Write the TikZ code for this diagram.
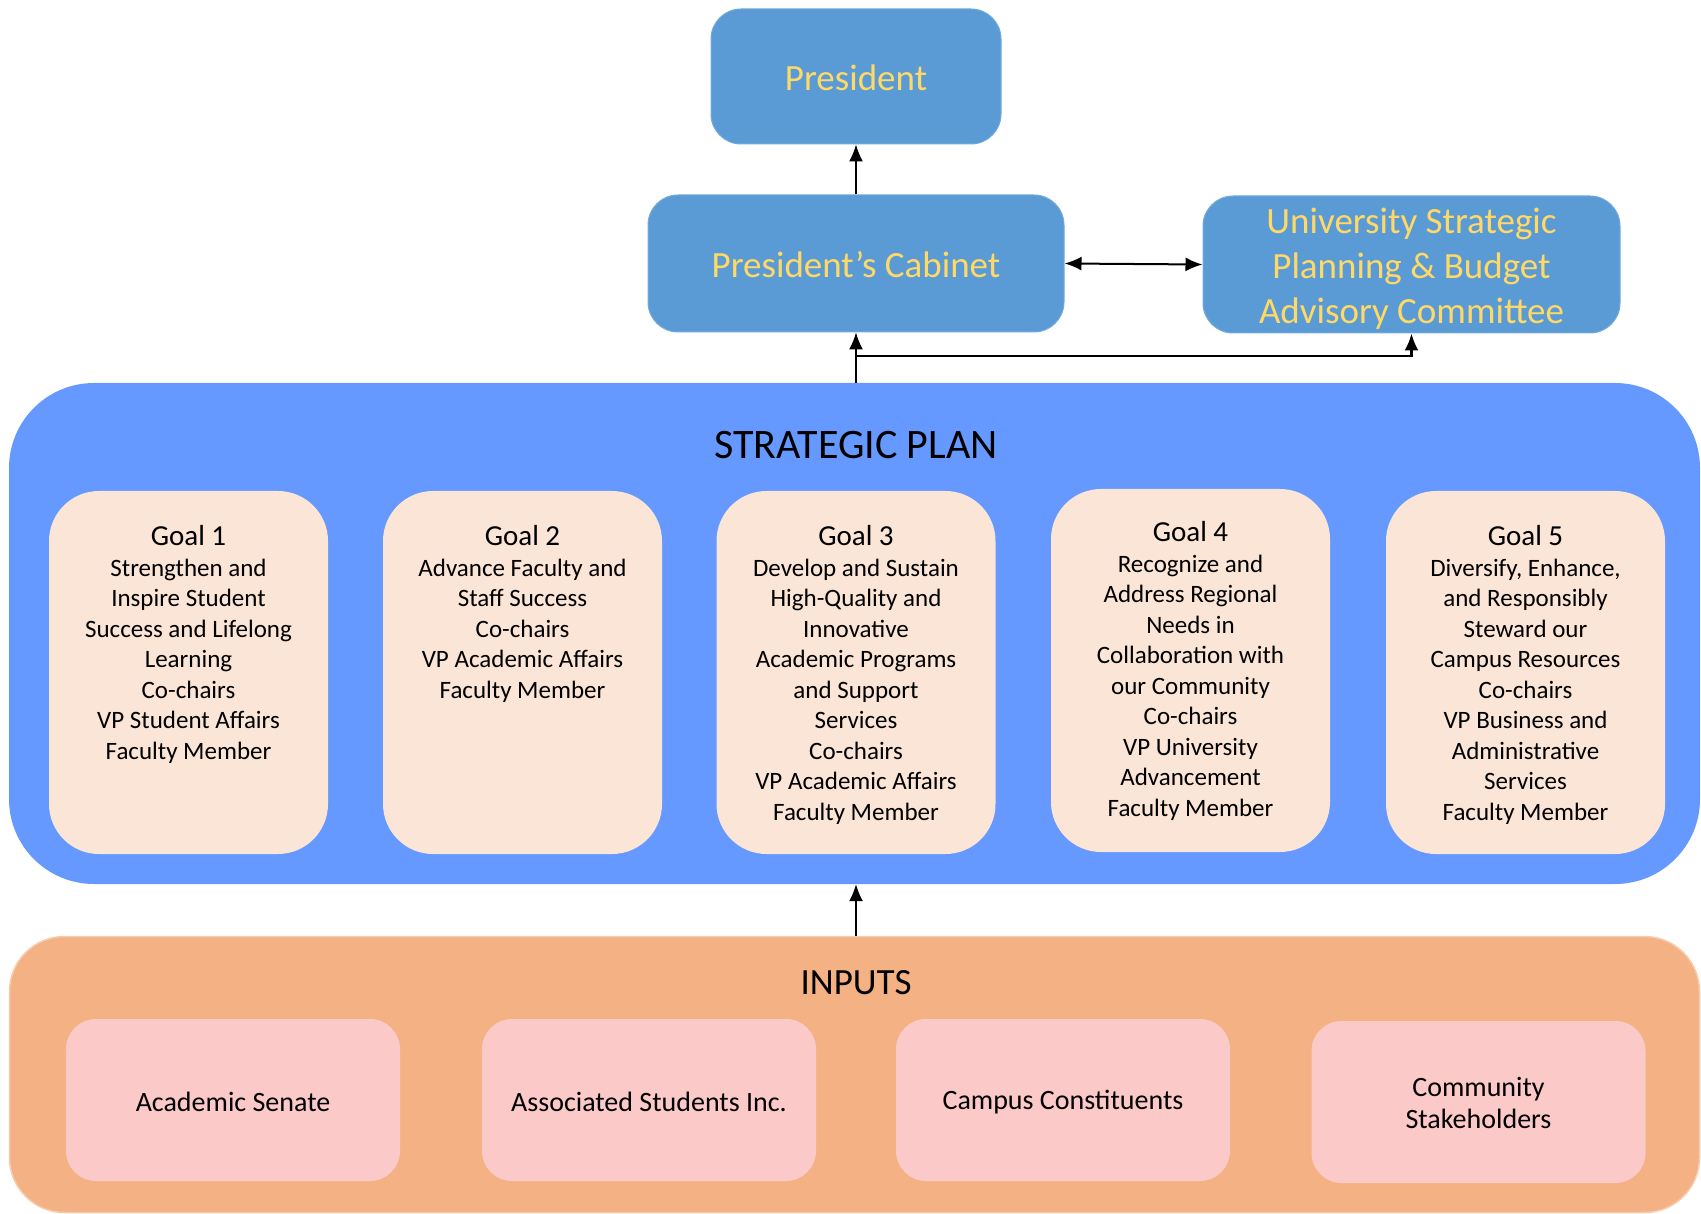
\documentclass[tikz,border=0pt]{standalone}
\usepackage{fontspec}
\setmainfont{Carlito}
\usetikzlibrary{arrows.meta}
\definecolor{boxblue}{HTML}{5B9BD5}
\definecolor{txtyellow}{HTML}{FFD966}
\definecolor{planblue}{HTML}{6699FF}
\definecolor{goalfill}{HTML}{FBE5D6}
\definecolor{inputfill}{HTML}{F4B183}
\definecolor{inputedge}{HTML}{F8CBAD}
\definecolor{srcfill}{HTML}{FCC9C9}
\tikzset{
  topbox/.style={rounded corners=30pt, fill=boxblue, draw=boxblue!85!white, line width=1pt,
    text=txtyellow, font=\fontsize{37}{44.5}\selectfont, align=center, inner sep=0pt},
  toptext/.style={text=txtyellow, font=\fontsize{37}{45}\selectfont, align=center, inner sep=0pt},
  planbox/.style={rounded corners=85pt, fill=planblue, draw=none, inner sep=0pt},
  goalbox/.style={rounded corners=50pt, fill=goalfill, draw=none, inner sep=0pt,
    minimum width=279pt, minimum height=363pt},
  goaltext/.style={anchor=north, align=center, inner sep=0pt, text=black,
    font=\fontsize{25}{30.5}\selectfont},
  inbox/.style={rounded corners=55pt, fill=inputfill, draw=inputedge, line width=1.5pt, inner sep=0pt},
  srcbox/.style={rounded corners=30pt, fill=srcfill, draw=none, inner sep=0pt,
    minimum width=334pt, minimum height=162pt},
  srctext/.style={align=center, inner sep=0pt, font=\fontsize{28}{32.5}\selectfont},
  titletext/.style={inner sep=0pt, text=black},
  arr/.style={-{Latex[length=17pt,width=14pt]}, line width=1.5pt, black},
  darr/.style={{Latex[length=17pt,width=14pt]}-{Latex[length=17pt,width=14pt]}, line width=2pt, black},
}
\begin{document}
\begin{tikzpicture}[x=1pt,y=-1pt]
\useasboundingbox (0,0) rectangle (1701,1214);
% top boxes
\node[topbox, minimum width=290pt, minimum height=135pt] (pres) at (856,76.5) {};
\node[toptext] (prest) at (856,78) {President};
\node[topbox, minimum width=416pt, minimum height=137pt] (cab) at (856,263.5) {};
\node[toptext] (cabt) at (856,265) {President’s Cabinet};
\node[topbox, minimum width=417pt, minimum height=137pt] (usp) at (1411.5,264.5) {};
\node[toptext] (uspt) at (1411.5,269) {University Strategic\\Planning \& Budget\\Advisory Committee};
% strategic plan
\node[planbox, minimum width=1691pt, minimum height=501pt] (sp) at (854.5,633.5) {};
\node[titletext, font=\fontsize{42}{50}\selectfont] (sptitle) at (856,445) {STRATEGIC PLAN};
\node[goalbox] (g1) at (188.5,672.5) {};
\node[goalbox] (g2) at (522.5,672.5) {};
\node[goalbox] (g3) at (856,672.5) {};
\node[goalbox] (g4) at (1190.5,670.5) {};
\node[goalbox] (g5) at (1525.5,672.5) {};
\node[goaltext] (g1t) at (188.5,525.5) {{\fontsize{29}{30.5}\selectfont Goal 1}\\Strengthen and\\Inspire Student\\Success and Lifelong\\Learning\\Co-chairs\\VP Student Affairs\\Faculty Member};
\node[goaltext] (g2t) at (522.5,525.5) {{\fontsize{29}{30.5}\selectfont Goal 2}\\Advance Faculty and\\Staff Success\\Co-chairs\\VP Academic Affairs\\Faculty Member};
\node[goaltext] (g3t) at (856,525.5) {{\fontsize{29}{30.5}\selectfont Goal 3}\\Develop and Sustain\\High-Quality and\\Innovative\\Academic Programs\\and Support\\Services\\Co-chairs\\VP Academic Affairs\\Faculty Member};
\node[goaltext] (g4t) at (1190.5,521.5) {{\fontsize{29}{30.5}\selectfont Goal 4}\\Recognize and\\Address Regional\\Needs in\\Collaboration with\\our Community\\Co-chairs\\VP University\\Advancement\\Faculty Member};
\node[goaltext] (g5t) at (1525.5,525.5) {{\fontsize{29}{30.5}\selectfont Goal 5}\\Diversify, Enhance,\\and Responsibly\\Steward our\\Campus Resources\\Co-chairs\\VP Business and\\Administrative\\Services\\Faculty Member};
% inputs
\node[inbox, minimum width=1690pt, minimum height=276pt] (inp) at (854.5,1074.5) {};
\node[titletext, font=\fontsize{37}{44}\selectfont] (inptitle) at (856,983) {INPUTS};
\node[srcbox] (s1) at (233,1100) {};
\node[srcbox] (s2) at (649,1100) {};
\node[srcbox] (s3) at (1063,1100) {};
\node[srcbox] (s4) at (1478.5,1102) {};
\node[srctext] (s1t) at (233,1102) {Academic Senate};
\node[srctext] (s2t) at (649,1102) {Associated Students Inc.};
\node[srctext] (s3t) at (1063,1102) {Campus Constituents};
\node[srctext] (s4t) at (1478.5,1103) {Community\\Stakeholders};
% connectors
\draw[arr] (cab.north) -- (pres.south);
\draw[darr] (cab.east) -- (usp.west);
\draw[arr] (sp.north -| cab.south) -- (cab.south);
\coordinate (br) at (856,356);
\draw[arr, line width=2.2pt] (br) -| (usp.south);
\draw[arr] (inp.north -| cab.south) -- (sp.south -| cab.south);
\end{tikzpicture}
\end{document}
